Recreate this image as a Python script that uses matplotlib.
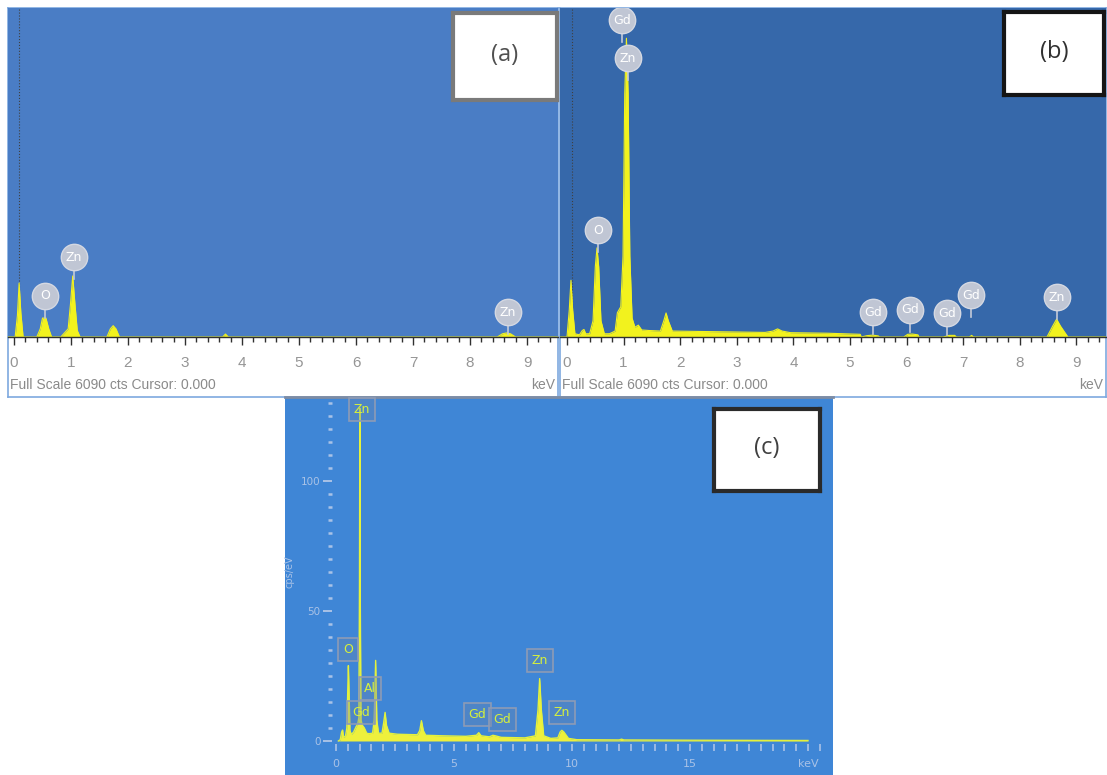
import matplotlib
matplotlib.use('Agg')
import matplotlib.pyplot as plt
import numpy as np
from matplotlib.ticker import MultipleLocator, FixedLocator

W, H = 1107, 775

# ---- data ----
# panel (a): ZnO, counts (full scale 6090)
a_spectrum = [(-0.10, 0), (0.02, 0), (0.06, 400), (0.09, 1000), (0.12, 450), (0.16, 0),
              (0.40, 0), (0.46, 150), (0.50, 350), (0.56, 350), (0.61, 150), (0.66, 0),
              (0.82, 0), (0.88, 70), (0.95, 150), (0.99, 600), (1.03, 1130), (1.07, 600),
              (1.11, 120), (1.16, 0), (1.63, 0), (1.69, 150), (1.74, 210), (1.79, 150),
              (1.85, 0), (3.66, 0), (3.71, 55), (3.76, 0), (8.48, 0), (8.57, 60),
              (8.64, 75), (8.71, 60), (8.80, 0), (9.55, 0)]
a_names = ['Zn', 'O', 'Zn']
a_name_kev = [1.05, 0.54, 8.66]
a_name_cts = [1480, 760, 460]

# panel (b): Gd doped ZnO, counts (full scale 6090)
b_spectrum = [(-0.12, 0), (0.00, 0), (0.04, 500), (0.07, 1050), (0.10, 500), (0.14, 60),
              (0.22, 40), (0.27, 120), (0.30, 140), (0.33, 60), (0.40, 60), (0.46, 300),
              (0.50, 1300), (0.53, 1650), (0.56, 1300), (0.60, 300), (0.66, 60), (0.75, 60),
              (0.85, 110), (0.89, 450), (0.95, 560), (0.99, 1500), (1.02, 4500), (1.05, 5530),
              (1.08, 4500), (1.11, 1500), (1.15, 350), (1.20, 180), (1.26, 220), (1.32, 130),
              (1.45, 120), (1.65, 110), (1.71, 300), (1.75, 445), (1.79, 300), (1.86, 110),
              (2.50, 100), (3.50, 85), (3.64, 110), (3.72, 150), (3.80, 110), (3.95, 80),
              (4.60, 70), (5.18, 50), (5.20, 0), (5.30, 25), (5.40, 35), (5.50, 20),
              (5.52, 0), (5.95, 0), (6.02, 50), (6.10, 55), (6.20, 40), (6.22, 0),
              (6.65, 0), (6.75, 30), (6.85, 30), (6.88, 0), (7.11, 0), (7.15, 30),
              (7.18, 0), (8.48, 0), (8.58, 200), (8.65, 330), (8.72, 200), (8.85, 0), (9.55, 0)]
b_names = ['Gd', 'Zn', 'O', 'Gd', 'Gd', 'Gd', 'Gd', 'Zn']
b_name_kev = [0.97, 1.08, 0.55, 5.41, 6.06, 6.72, 7.14, 8.66]
b_name_cts = [5865, 5160, 1980, 460, 500, 444, 777, 740]

# panel (c): cps/eV
c_spectrum = [(0.10, 0), (0.18, 0.5), (0.24, 3.5), (0.28, 4.2), (0.32, 1.5), (0.40, 1.8),
              (0.46, 5), (0.50, 20), (0.525, 29), (0.55, 20), (0.59, 4), (0.65, 2.5),
              (0.75, 3.5), (0.85, 5.5), (0.92, 6.5), (0.97, 9), (0.995, 60), (1.01, 128),
              (1.025, 60), (1.06, 8), (1.12, 6), (1.20, 5), (1.30, 3), (1.40, 2.8),
              (1.55, 3), (1.62, 8), (1.68, 31), (1.73, 8), (1.80, 3), (1.95, 3),
              (2.02, 7), (2.08, 11), (2.14, 6), (2.25, 3), (2.60, 2.6), (3.00, 2.5),
              (3.45, 2.4), (3.55, 4), (3.62, 7.8), (3.70, 4), (3.80, 2.2), (4.50, 2.0),
              (5.50, 1.8), (5.95, 2.2), (6.05, 3.2), (6.15, 2.0), (6.50, 1.6), (6.65, 2.2),
              (6.75, 2.0), (7.00, 1.4), (8.00, 1.2), (8.45, 2), (8.56, 12), (8.63, 24),
              (8.70, 12), (8.80, 2), (9.10, 1.0), (9.40, 1.2), (9.50, 3.5), (9.57, 4.1),
              (9.65, 3.5), (9.85, 1.0), (10.2, 0.5), (12.0, 0.4), (12.1, 0.7), (12.2, 0.4),
              (15.0, 0.3), (20.0, 0.2)]
c_names = ['Zn', 'O', 'Al', 'Gd', 'Gd', 'Gd', 'Zn', 'Zn']
c_name_kev = [1.09, 0.50, 1.44, 1.07, 6.00, 7.06, 8.65, 9.57]
c_name_cps = [127.6, 35.3, 20.3, 11.0, 10.2, 8.3, 31.0, 10.8]

YELLOW = '#f2f21e'


def px_axes(fig, x0, y0, x1, y1, **kw):
    return fig.add_axes([x0 / W, 1 - y1 / H, (x1 - x0) / W, (y1 - y0) / H], **kw)


def tag_box(fig, box, label, edge, tcolor):
    ax = px_axes(fig, *box)
    ax.set_facecolor('white')
    ax.set_xticks([])
    ax.set_yticks([])
    for s in ax.spines.values():
        s.set_color(edge)
        s.set_linewidth(3)
    ax.text(0.5, 0.52, label, transform=ax.transAxes, ha='center', va='center',
            fontsize=17, color=tcolor, family=['Open Sans', 'DejaVu Sans'])


def eds_panel(fig, x0, x1, zero_px, ppk, bg, spectrum, names, name_kev, name_cts):
    frame = px_axes(fig, x0, 8, x1, 397)
    frame.set_xticks([])
    frame.set_yticks([])
    for s in frame.spines.values():
        s.set_color('#7ea9df')
        s.set_linewidth(1.2)

    ax = px_axes(fig, x0, 8, x1, 337)
    ax.set_facecolor(bg)
    kev, cts = np.array(spectrum).T
    ax.fill_between(kev, cts, color=YELLOW, lw=0, zorder=2)
    ax.plot(kev, cts, color=YELLOW, lw=0.8, zorder=2)
    ax.axvline(0.08, color='#404040', lw=0.8, ls=':', zorder=1)
    ax.set_xlim((x0 - zero_px) / ppk, (x1 - zero_px) / ppk)
    ax.set_ylim(0, 6090)
    for side in ['top', 'left', 'right']:
        ax.spines[side].set_visible(False)
    ax.spines['bottom'].set_color('#303030')
    ax.spines['bottom'].set_linewidth(1.0)
    ax.set_yticks([])
    ax.xaxis.set_major_locator(FixedLocator(range(10)))
    ax.xaxis.set_minor_locator(MultipleLocator(0.2))
    ax.tick_params(axis='x', which='major', direction='out', length=6, width=1,
                   color='#303030', labelcolor='#959595', labelsize=11, pad=8)
    ax.tick_params(axis='x', which='minor', direction='out', length=3.5, width=1,
                   color='#303030')
    for lab in ax.get_xticklabels():
        lab.set_family(['Liberation Sans', 'DejaVu Sans'])

    # balloon markers with pins
    cpp = 6090 / 329.0
    for nm, x, y in zip(names, name_kev, name_cts):
        ax.plot([x, x], [y, y - 22 * cpp], color='#c4cad8', lw=1.2, zorder=3)
        ax.plot(x, y, 'o', ms=19, mfc='#c0c6d4', mec='#d4d8e2', mew=1, zorder=4)
        ax.text(x, y, nm, ha='center', va='center', color='white', fontsize=9,
                zorder=5)

    fig.text((x0 + 2) / W, 1 - 385 / H, 'Full Scale 6090 cts Cursor: 0.000',
             ha='left', va='center', fontsize=10, color='#8a8a8a',
             family=['Liberation Sans', 'DejaVu Sans'])
    fig.text((x1 - 3) / W, 1 - 385 / H, 'keV', ha='right', va='center',
             fontsize=10, color='#8a8a8a', family=['Liberation Sans', 'DejaVu Sans'])


fig = plt.figure(figsize=(W / 100, H / 100), dpi=100)
fig.patch.set_facecolor('white')

eds_panel(fig, 8, 558, 14, 57.0, '#4a7dc5', a_spectrum, a_names, a_name_kev, a_name_cts)
eds_panel(fig, 560, 1106, 567, 56.6, '#3668aa', b_spectrum, b_names, b_name_kev, b_name_cts)
tag_box(fig, (453, 13, 557, 100), '(a)', '#7a7a7a', '#505050')
tag_box(fig, (1004, 12, 1104, 95), '(b)', '#151515', '#303030')

# panel (c)
bgc = px_axes(fig, 285, 397, 833, 775)
bgc.set_facecolor('#3f86d6')
bgc.set_xticks([])
bgc.set_yticks([])
for side, s in bgc.spines.items():
    s.set_visible(side == 'top')
bgc.spines['top'].set_color('#7d8ca4')
bgc.spines['top'].set_linewidth(2)

c_ppk = 23.6
c_ppu = 2.6
cx0, cx1 = -0.15, 20.6
cy0, cy1 = -1.0, 131.0
axc = px_axes(fig, 336 + cx0 * c_ppk, 741 - cy1 * c_ppu, 336 + cx1 * c_ppk, 741 - cy0 * c_ppu)
axc.patch.set_alpha(0)
kev, cps = np.array(c_spectrum).T
axc.fill_between(kev, cps, color='#eef03c', lw=0, zorder=2)
axc.plot(kev, cps, color='#e4f23c', lw=1.0, zorder=2)
axc.set_xlim(cx0, cx1)
axc.set_ylim(cy0, cy1)
for s in axc.spines.values():
    s.set_visible(False)
light = '#a9c2e6'
axc.xaxis.set_major_locator(FixedLocator([0, 5, 10, 15, 20]))
axc.set_xticklabels(['0', '5', '10', '15', 'keV'])
axc.xaxis.set_minor_locator(MultipleLocator(0.5))
axc.tick_params(axis='x', which='both', direction='out', length=5, width=1.2,
                color=light, labelcolor=light, labelsize=8, pad=6)
axc.yaxis.set_major_locator(FixedLocator([0, 50, 100]))
axc.yaxis.set_minor_locator(MultipleLocator(5))
axc.tick_params(axis='y', which='major', direction='out', length=6.5, width=1.4,
                color=light, labelcolor=light, labelsize=7.5, pad=2)
axc.tick_params(axis='y', which='minor', direction='out', length=3, width=1.8,
                color=light)
axc.set_ylabel('cps/eV', color=light, fontsize=7, labelpad=5)
for nm, x, y in zip(c_names, c_name_kev, c_name_cps):
    axc.text(x, y, nm, ha='center', va='center', color='#d6f03c', fontsize=9, zorder=5,
             bbox=dict(boxstyle='square,pad=0.4', fc=(0.42, 0.52, 0.68, 0.35),
                       ec='#8d9bb6', lw=1.2))

tag_box(fig, (714, 409, 820, 491), '(c)', '#2a2a2a', '#404040')

fig.savefig('out.png', dpi=100, facecolor='white')
